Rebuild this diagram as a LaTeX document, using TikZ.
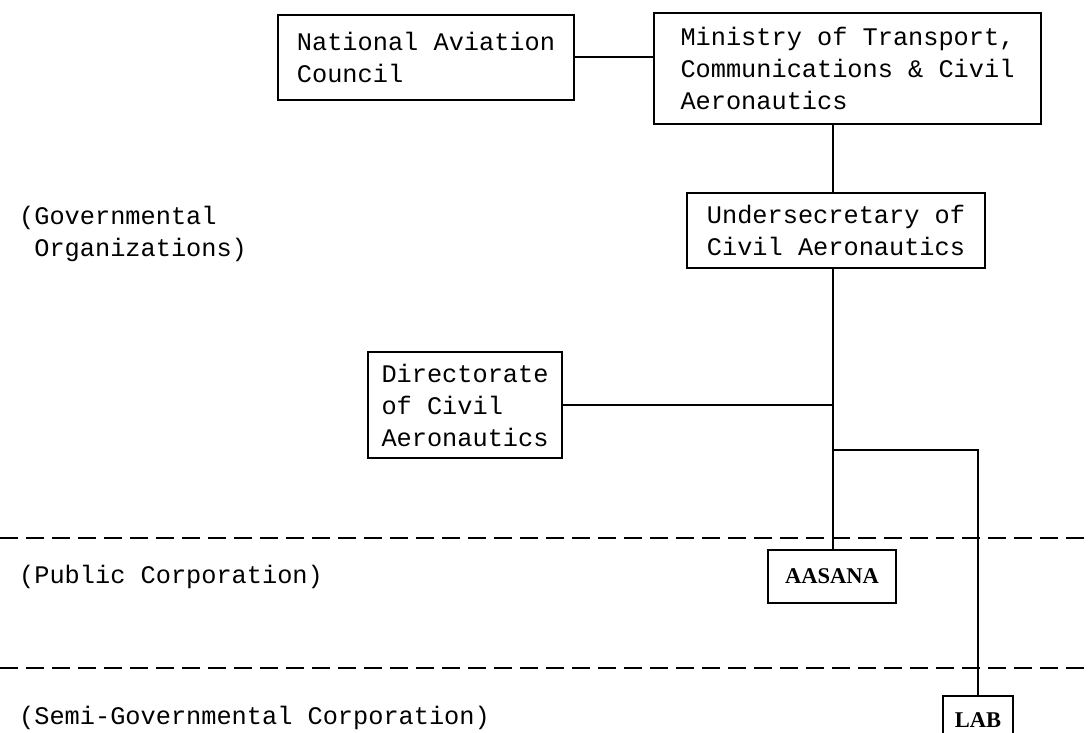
\documentclass[tikz,border=0pt]{standalone}
\usepackage{fontspec}
\newfontfamily\twfont{Liberation Mono}
\newfontfamily\srfont{Liberation Serif}
\begin{document}
\begin{tikzpicture}[x=1pt,y=-1pt,
  box/.style={draw, line width=2.2pt, font=\twfont\fontsize{25.3}{32}\selectfont, align=left, inner sep=0pt},
  sbox/.style={draw, line width=2.2pt, font=\srfont\bfseries\fontsize{22.5}{26}\selectfont, inner sep=0pt},
  conn/.style={line width=2pt},
  sepline/.style={line width=2pt, dash pattern=on 18pt off 8pt},
  lbl/.style={font=\twfont\fontsize{25.3}{32}\selectfont, align=left, anchor=west, inner sep=0pt}]
\clip (0,0) rectangle (1089,733);
\fill[white] (0,0) rectangle (1089,733);
% boxes
\node[box, minimum width=296pt, minimum height=85pt] (nac) at (426,57.5) {National Aviation\\Council};
\node[box, minimum width=387pt, minimum height=111pt] (min) at (847.5,68.5) {Ministry of Transport,\\Communications \& Civil\\Aeronautics};
\node[box, minimum width=298pt, minimum height=75pt] (us) at (836,230.5) {Undersecretary of\\Civil Aeronautics};
\node[box, minimum width=194pt, minimum height=106pt] (dir) at (465,405) {Directorate\\of Civil\\Aeronautics};
\node[sbox, minimum width=128pt, minimum height=53pt] (aas) at (832,576.5) {AASANA};
\node[sbox, minimum width=70pt, minimum height=48pt] (lab) at (978,720) {LAB};
% side labels
\node[lbl] (gov) at (19,234) {(Governmental\\\hspace*{0.6em}Organizations)};
\node[lbl] (pub) at (19,577) {(Public Corporation)};
\node[lbl] (semi) at (19,718) {(Semi-Governmental Corporation)};
% connectors
\coordinate (tr) at (833,0);
\coordinate (br) at (833,450);
\draw[conn] (nac.east) -- (nac.east -| min.west);
\draw[conn] (min.south -| tr) -- (us.north -| tr);
\draw[conn] (us.south -| tr) -- (aas.north -| tr);
\draw[conn] (dir.east) -- (dir.east -| tr);
\draw[conn] (br) -| (lab.north);
% separators
\coordinate (d1l) at (0,538);
\coordinate (d1r) at (1089,538);
\coordinate (d2l) at (0,668);
\coordinate (d2r) at (1089,668);
\draw[sepline] (d1l) -- (d1r);
\draw[sepline] (d2l) -- (d2r);
\end{tikzpicture}
\end{document}
